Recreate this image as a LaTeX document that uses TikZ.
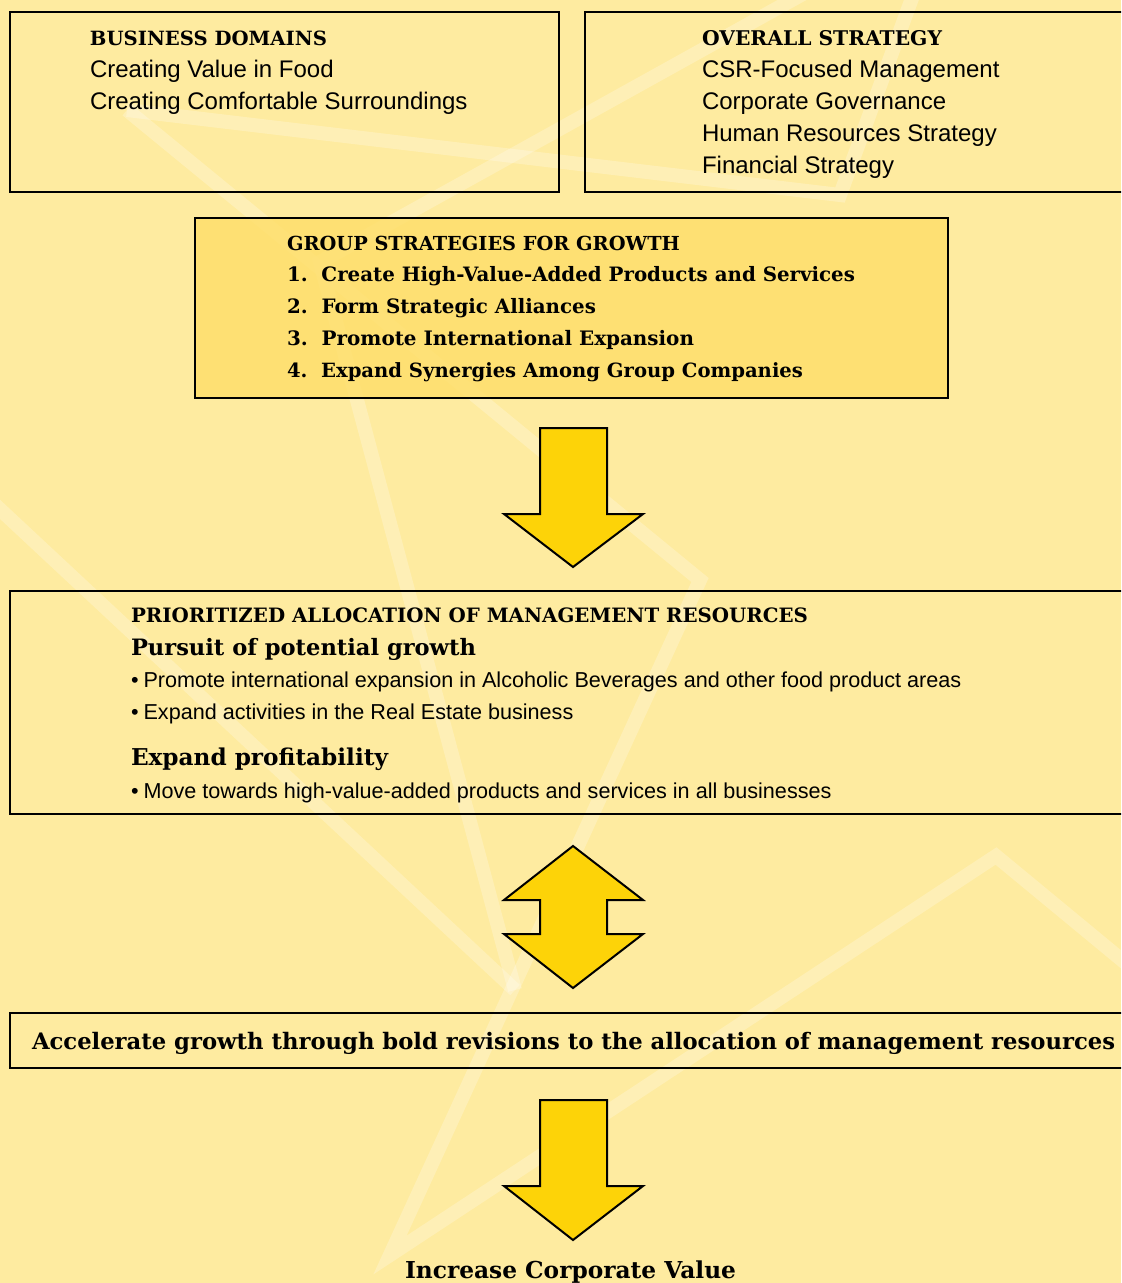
\documentclass[tikz,border=0pt]{standalone}
\usepackage{fontspec}
\setmainfont{Liberation Sans}
\newfontfamily\slab{DejaVu Serif}
\usepackage{graphicx}
\newcommand{\fitw}[2]{\resizebox{#1}{!}{#2}}
\definecolor{bgc}{HTML}{FEEBA0}
\definecolor{boxy}{HTML}{FFDF6C}
\definecolor{arrowy}{HTML}{FDD308}
\tikzset{
  frame/.style={draw=black, line width=1.3pt},
  deco/.style={white, opacity=0.24, line width=7pt, line join=miter},
  blockarrow/.style={fill=arrowy, draw=black, line width=1pt, line join=miter},
  txt/.style={anchor=base west, inner sep=0pt, outer sep=0pt},
  ttl/.style={txt, font=\slab\bfseries\fontsize{10.3pt}{12pt}\selectfont},
  sns/.style={txt, font=\fontsize{12pt}{14pt}\selectfont},
  bul/.style={txt, font=\fontsize{10.8pt}{13pt}\selectfont},
}
\begin{document}
\begin{tikzpicture}[x=0.5pt,y=-0.5pt]
\fill[bgc] (0,0) rectangle (1121,1283);
\useasboundingbox (0,0) rectangle (1121,1283);
\begin{scope}
\clip (0,0) rectangle (1121,1283);
% decorative background bands
\draw[deco] (127,110) -- (700,580) -- (390,1255) -- (996,856) -- (1140,975);
\draw[deco] (-10,500) -- (515,990);
\draw[deco] (810,-10) -- (320,262) -- (515,990);
\draw[deco] (127,110) -- (840,195) -- (915,-10);
% boxes
\draw[frame] (10,12) rectangle (559,192);
\draw[frame] (585,12) rectangle (1130,192);
\draw[frame, fill=boxy, fill opacity=0.85] (195,218) rectangle (948,398);
\draw[frame] (10,591) rectangle (1130,814);
\draw[frame] (10,1013) rectangle (1130,1068);
% block arrows
\draw[blockarrow] (540,428) -- (607,428) -- (607,514) -- (643,514) -- (573,567) -- (504,514) -- (540,514) -- cycle;
\draw[blockarrow] (573,846) -- (643,900) -- (607,900) -- (607,934) -- (643,934) -- (573,988) -- (504,934) -- (540,934) -- (540,900) -- (504,900) -- cycle;
\draw[blockarrow] (540,1100) -- (607,1100) -- (607,1186) -- (643,1186) -- (573,1240) -- (504,1186) -- (540,1186) -- cycle;
\end{scope}
% texts box 1
\node[ttl] (bdt) at (90,46) {\fitw{118.5pt}{BUSINESS DOMAINS}};
\node[sns] (bd1) at (90,78) {Creating Value in Food};
\node[sns] (bd2) at (90,110) {Creating Comfortable Surroundings};
% box 2
\node[ttl] (ost) at (702,46) {\fitw{120pt}{OVERALL STRATEGY}};
\node[sns] (os1) at (702,78) {CSR-Focused Management};
\node[sns] (os2) at (702,110) {Corporate Governance};
\node[sns] (os3) at (702,142) {Human Resources Strategy};
\node[sns] (os4) at (702,174) {Financial Strategy};
% group strategies
\node[ttl] (gst) at (287,250) {\fitw{196.5pt}{GROUP STRATEGIES FOR GROWTH}};
\node[ttl] (gs1) at (287,282) {\fitw{284pt}{1.\ \ Create High-Value-Added Products and Services}};
\node[ttl] (gs2) at (287,314) {\fitw{154.5pt}{2.\ \ Form Strategic Alliances}};
\node[ttl] (gs3) at (287,346) {\fitw{203.5pt}{3.\ \ Promote International Expansion}};
\node[ttl] (gs4) at (287,378) {\fitw{258pt}{4.\ \ Expand Synergies Among Group Companies}};
% prioritized allocation
\node[ttl] (pat) at (131,622) {\fitw{338.5pt}{PRIORITIZED ALLOCATION OF MANAGEMENT RESOURCES}};
\node[ttl] (pa1) at (131,655) {\fitw{172.5pt}{Pursuit of potential growth}};
\node[bul] (pa2) at (131,687) {\textbullet\hspace{2.5pt}Promote international expansion in Alcoholic Beverages and other food product areas};
\node[bul] (pa3) at (131,719) {\textbullet\hspace{2.5pt}Expand activities in the Real Estate business};
\node[ttl] (pa4) at (131,765) {\fitw{128.5pt}{Expand profitability}};
\node[bul] (pa5) at (131,798) {\textbullet\hspace{2.5pt}Move towards high-value-added products and services in all businesses};
% accelerate
\node[ttl] (acc) at (32,1049) {\fitw{541.5pt}{Accelerate growth through bold revisions to the allocation of management resources}};
% final
\node[ttl] (icv) at (405,1278) {\fitw{165.5pt}{Increase Corporate Value}};
\end{tikzpicture}
\end{document}
